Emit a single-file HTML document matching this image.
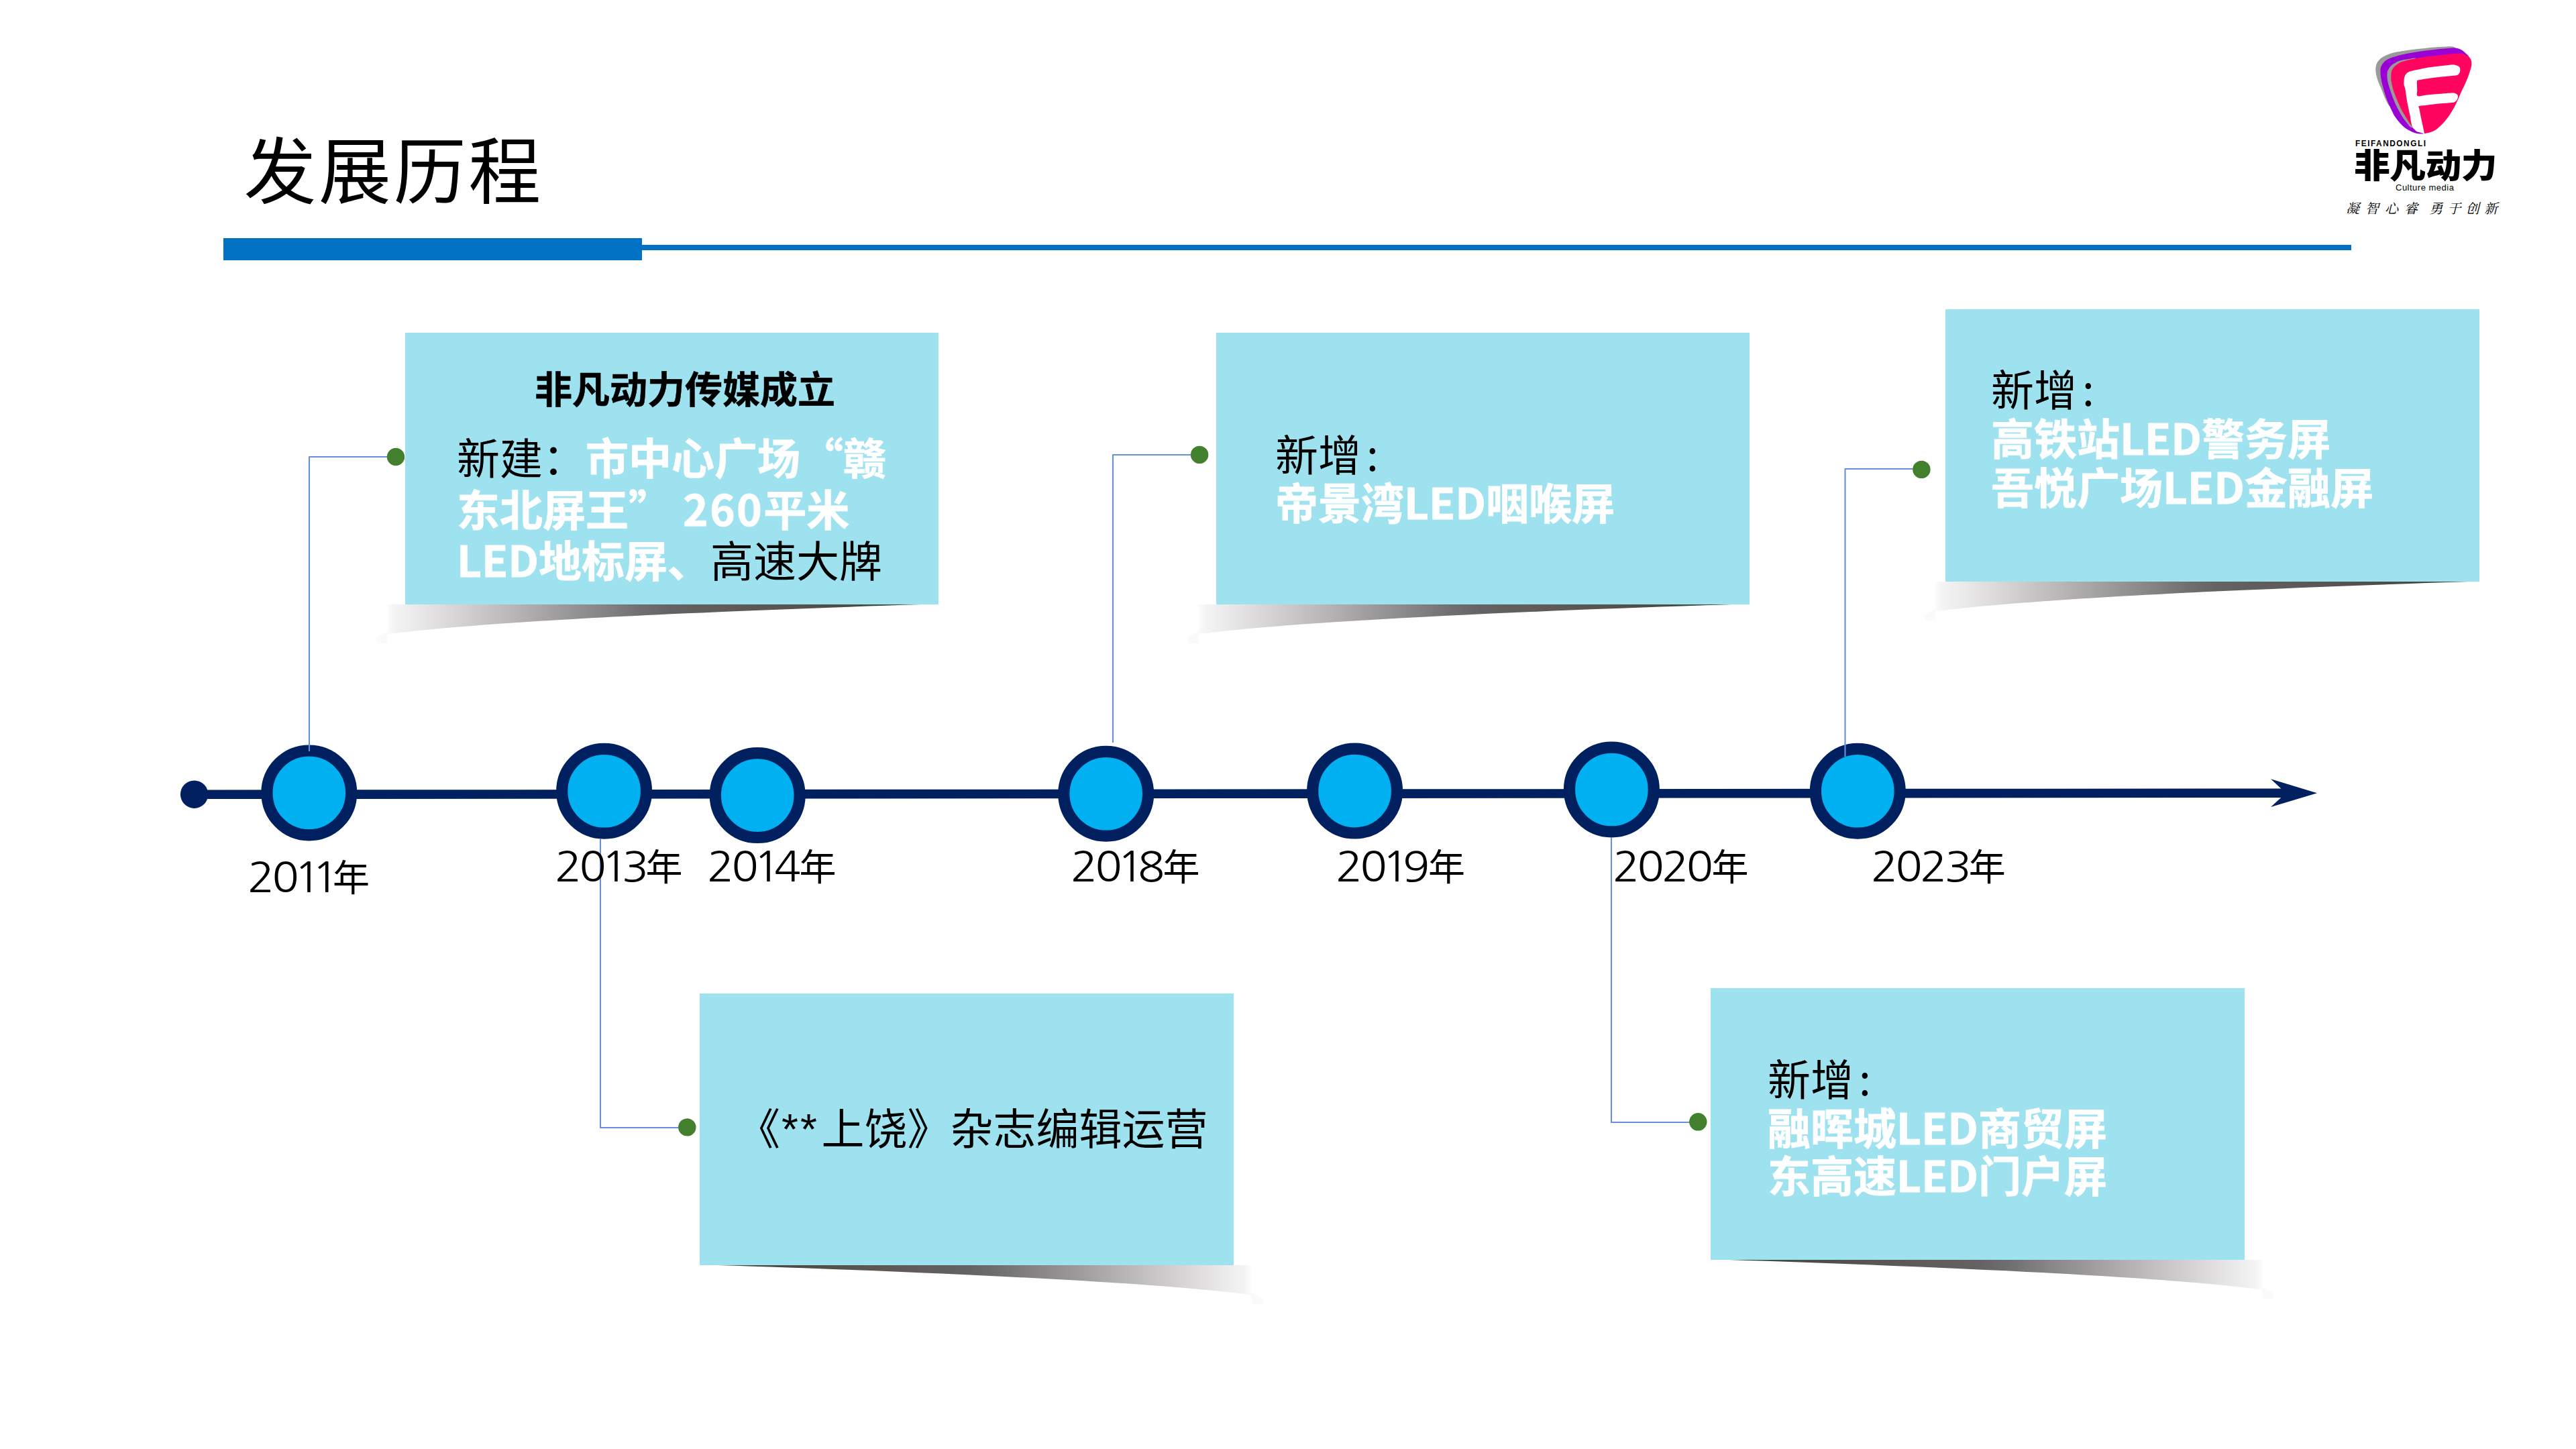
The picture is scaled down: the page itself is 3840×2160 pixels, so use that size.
<!DOCTYPE html>
<html lang="zh-CN">
<head>
<meta charset="utf-8">
<title>发展历程</title>
<style>
html,body{margin:0;padding:0;background:#fff;}
body{width:3840px;height:2160px;overflow:hidden;position:relative;
  font-family:"Liberation Sans","Noto Sans CJK SC",sans-serif;color:#000;
  text-spacing-trim:space-all;-webkit-font-smoothing:antialiased;}
#stage{position:absolute;left:0;top:0;width:3840px;height:2160px;overflow:hidden;}
svg.layer{position:absolute;left:0;top:0;width:3840px;height:2160px;}
.box{position:absolute;background:#9fe2ef;}
.t{position:absolute;white-space:nowrap;line-height:1;margin:0;}
.cjk{font-family:"Noto Sans CJK SC",sans-serif;}
.b{font-weight:700;-webkit-text-stroke:0.5px #000;}
.w{color:#fff;}
.b.w{-webkit-text-stroke:0.8px #fff;}
.body64{font-size:64px;}
.col{margin-left:8px;}
/* title */
#title{left:363.5px;top:194px;font-size:108px;letter-spacing:3.6px;}
/* year labels */
.yr{font-family:"NanumGothic","Noto Sans CJK SC",sans-serif;font-weight:400;font-size:62px;letter-spacing:-3.4px;}
.yr .d{display:inline-block;transform:scaleX(1.07);transform-origin:0 50%;}
.yr .d i{font-style:normal;margin-left:-3.6px;margin-right:-5.6px;}
.yr .n{position:absolute;top:-0.3px;font-family:"Noto Sans CJK SC",sans-serif;font-weight:400;font-size:55px;letter-spacing:0;}
</style>
</head>
<body>
<div id="stage">

<!-- ======= shapes layer (below text) ======= -->
<svg class="layer" id="shapes" viewBox="0 0 3840 2160">
  <defs>
    <linearGradient id="shL" x1="0" y1="0" x2="1" y2="0">
      <stop offset="0" stop-color="#fbfbfb"/>
      <stop offset="0.012" stop-color="#f4f4f4"/>
      <stop offset="0.06" stop-color="#e9e8e8"/>
      <stop offset="0.085" stop-color="#e2e0e0"/>
      <stop offset="0.149" stop-color="#d0cece"/>
      <stop offset="0.213" stop-color="#bebcbc"/>
      <stop offset="0.277" stop-color="#aba9a9"/>
      <stop offset="0.342" stop-color="#979595"/>
      <stop offset="0.406" stop-color="#858383"/>
      <stop offset="0.47" stop-color="#717070"/>
      <stop offset="0.53" stop-color="#646262"/>
      <stop offset="0.72" stop-color="#5a5654"/>
      <stop offset="0.84" stop-color="#4c4e46"/>
      <stop offset="1" stop-color="#3e4a40"/>
    </linearGradient>
    <linearGradient id="shR" x1="1" y1="0" x2="0" y2="0">
      <stop offset="0" stop-color="#fbfbfb"/>
      <stop offset="0.012" stop-color="#f4f4f4"/>
      <stop offset="0.06" stop-color="#e9e8e8"/>
      <stop offset="0.085" stop-color="#e2e0e0"/>
      <stop offset="0.149" stop-color="#d0cece"/>
      <stop offset="0.213" stop-color="#bebcbc"/>
      <stop offset="0.277" stop-color="#aba9a9"/>
      <stop offset="0.342" stop-color="#979595"/>
      <stop offset="0.406" stop-color="#858383"/>
      <stop offset="0.47" stop-color="#717070"/>
      <stop offset="0.53" stop-color="#646262"/>
      <stop offset="0.72" stop-color="#5a5654"/>
      <stop offset="0.84" stop-color="#4c4e46"/>
      <stop offset="1" stop-color="#3e4a40"/>
    </linearGradient>
  </defs>

  <!-- header rule -->
  <rect x="333" y="355" width="624" height="33" fill="#0071c3"/>
  <rect x="950" y="365" width="2555" height="8" fill="#0071c3"/>

  <!-- box shadows -->
  <g fill="#fafafa">
    <path transform="translate(604,901)" d="M-26,40 L-26,46 L-27,58 L-42,58 L-44,50 Z"/><path transform="translate(1813,901)" d="M-26,40 L-26,46 L-27,58 L-42,58 L-44,50 Z"/><path transform="translate(2912,867)" d="M-26,40 L-26,46 L-27,58 L-42,58 L-44,50 Z"/>
    <path transform="translate(1043,1886)" d="M822,40 L822,46 L823,58 L838,58 L840,50 Z"/><path transform="translate(2550,1878)" d="M822,40 L822,46 L823,58 L838,58 L840,50 Z"/>
  </g>
  <path transform="translate(604,901)" d="M-26,0 L769,0 C396,11.9 96,27.5 -26,44.5 Z" fill="url(#shL)"/>
  <path transform="translate(1813,901)" d="M-26,0 L769,0 C396,11.9 96,27.5 -26,44.5 Z" fill="url(#shL)"/>
  <path transform="translate(2912,867)" d="M-26,0 L769,0 C396,11.9 96,27.5 -26,44.5 Z" fill="url(#shL)"/>
  <path transform="translate(1043,1886)" d="M822,0 L27,0 C400,11.9 700,27.5 822,44.5 Z" fill="url(#shR)"/>
  <path transform="translate(2550,1878)" d="M822,0 L27,0 C400,11.9 700,27.5 822,44.5 Z" fill="url(#shR)"/>
</svg>

<!-- ======= info boxes ======= -->
<div class="box" style="left:604px;top:496px;width:795px;height:405px;"></div>
<div class="box" style="left:1813px;top:496px;width:795px;height:405px;"></div>
<div class="box" style="left:2900px;top:461px;width:796px;height:406px;"></div>
<div class="box" style="left:1043px;top:1481px;width:796px;height:405px;"></div>
<div class="box" style="left:2550px;top:1473px;width:796px;height:405px;"></div>

<!-- ======= timeline layer ======= -->
<svg class="layer" id="timeline" viewBox="0 0 3840 2160">
  <!-- main axis -->
  <line x1="289.6" y1="1184.3" x2="3412" y2="1182.2" stroke="#002060" stroke-width="13.6"/>
  <circle cx="289.6" cy="1184.2" r="20.7" fill="#002060"/>
  <path d="M3454,1182.2 L3385,1161.3 L3407.6,1182.2 L3385,1203 Z" fill="#002060"/>
  <!-- year nodes -->
  <g fill="#00b0f0" stroke="#002060" stroke-width="17.2">
    <circle cx="460.8" cy="1181.9" r="62.9"/>
    <circle cx="900.6" cy="1179.3" r="62.9"/>
    <circle cx="1129.2" cy="1185.6" r="62.9"/>
    <circle cx="1648.7" cy="1183.3" r="62.9"/>
    <circle cx="2019.6" cy="1179.1" r="62.9"/>
    <circle cx="2402.4" cy="1177" r="62.9"/>
    <circle cx="2769.3" cy="1179.3" r="62.9"/>
  </g>
  <!-- connectors -->
  <g fill="none" stroke="#6690d8" stroke-width="2.1" stroke-linejoin="round">
    <path d="M461,1120 V681 H590"/>
    <path d="M895,1250 V1681 H1024"/>
    <path d="M1659,1107 V678 H1788"/>
    <path d="M2402,1248 V1673 H2531"/>
    <path d="M2750.5,1128 V699 H2864"/>
  </g>
  <!-- connector end dots -->
  <g fill="#43802d">
    <circle cx="590" cy="681" r="13.2"/>
    <circle cx="1024.3" cy="1680.4" r="13.2"/>
    <circle cx="1788.1" cy="677.9" r="13.2"/>
    <circle cx="2531.3" cy="1672.3" r="13.2"/>
    <circle cx="2864.4" cy="699.9" r="13.2"/>
  </g>
</svg>

<!-- ======= logo mark ======= -->
<svg class="layer" id="logo" viewBox="0 0 3840 2160">
  <path fill="#9a9a9a" d="M3660.0,71.5 C3660.2,70.8 3657.3,70.0 3656.0,69.6 C3654.7,69.2 3654.8,69.2 3652.1,69.2 C3649.4,69.2 3643.8,69.6 3640.0,69.8 C3636.2,70.0 3633.7,70.2 3629.0,70.6 C3624.3,71.0 3617.5,71.8 3612.0,72.3 C3606.5,72.8 3601.3,73.2 3596.0,73.9 C3590.7,74.6 3584.9,75.4 3580.0,76.3 C3575.1,77.2 3570.0,78.1 3566.3,79.1 C3562.6,80.0 3560.4,81.0 3558.0,82.0 C3555.6,83.0 3553.7,83.8 3551.8,85.1 C3549.9,86.3 3547.9,88.0 3546.5,89.5 C3545.1,91.0 3544.0,92.5 3543.2,94.3 C3542.4,96.0 3541.9,98.0 3541.6,100.0 C3541.3,102.0 3541.3,104.1 3541.5,106.2 C3541.7,108.3 3541.8,110.1 3542.5,112.8 C3543.2,115.5 3544.3,119.2 3545.5,122.5 C3546.7,125.8 3548.5,129.3 3549.8,132.6 C3551.1,135.8 3552.3,139.1 3553.5,142.0 C3554.7,144.9 3555.8,147.5 3557.0,150.0 C3558.2,152.5 3559.5,155.3 3561.0,157.0 C3562.5,158.7 3566.2,162.8 3566.0,160.0 C3565.8,157.2 3562.2,147.0 3560.0,140.0 C3557.8,133.0 3554.3,124.7 3553.0,118.0 C3551.7,111.3 3550.8,104.7 3552.0,100.0 C3553.2,95.3 3555.3,92.8 3560.0,90.0 C3564.7,87.2 3570.0,85.3 3580.0,83.0 C3590.0,80.7 3607.5,77.6 3620.0,76.0 C3632.5,74.4 3648.3,74.2 3655.0,73.5 C3661.7,72.8 3659.8,72.2 3660.0,71.5 Z"/>
  <path fill="#9a00d6" d="M3682.0,89.0 C3683.6,88.9 3680.6,85.0 3679.5,83.3 C3678.4,81.6 3676.4,80.3 3675.2,79.1 C3673.9,77.9 3673.1,77.1 3672.0,76.2 C3670.9,75.3 3669.9,74.6 3668.6,73.9 C3667.3,73.2 3665.7,72.6 3664.0,72.2 C3662.3,71.8 3662.0,71.5 3658.7,71.5 C3655.4,71.5 3648.9,72.1 3644.0,72.5 C3639.1,72.9 3634.3,73.3 3629.0,73.9 C3623.7,74.5 3617.5,75.2 3612.0,76.0 C3606.5,76.8 3601.0,77.6 3596.0,78.5 C3591.0,79.4 3586.4,80.3 3582.0,81.3 C3577.6,82.3 3572.7,83.5 3569.6,84.4 C3566.5,85.3 3565.4,85.7 3563.5,86.5 C3561.6,87.3 3560.0,88.0 3558.4,89.0 C3556.8,90.0 3555.1,91.2 3553.8,92.5 C3552.5,93.8 3551.3,95.5 3550.5,97.0 C3549.7,98.5 3549.1,100.0 3548.8,101.5 C3548.5,103.0 3548.4,103.8 3548.5,106.2 C3548.6,108.6 3548.7,112.7 3549.2,116.0 C3549.7,119.3 3550.5,122.7 3551.3,126.0 C3552.1,129.3 3553.0,132.7 3554.0,136.0 C3555.0,139.3 3556.0,142.7 3557.2,146.0 C3558.4,149.3 3559.8,152.7 3561.3,156.0 C3562.8,159.3 3564.6,163.2 3566.0,166.0 C3567.4,168.8 3567.8,170.3 3569.6,173.0 C3571.3,175.7 3573.8,178.9 3576.5,182.0 C3579.2,185.1 3582.3,188.7 3586.1,191.3 C3589.9,194.0 3594.9,196.6 3599.3,197.9 C3603.7,199.2 3611.9,200.2 3612.5,199.2 C3613.1,198.2 3606.4,195.5 3603.0,192.0 C3599.6,188.5 3595.5,183.3 3592.0,178.0 C3588.5,172.7 3585.3,167.0 3582.0,160.0 C3578.7,153.0 3574.3,143.5 3572.0,136.0 C3569.7,128.5 3568.0,120.8 3568.0,115.0 C3568.0,109.2 3568.3,104.7 3572.0,101.0 C3575.7,97.3 3578.7,95.6 3590.0,93.0 C3601.3,90.4 3626.7,87.0 3640.0,85.5 C3653.3,84.0 3663.0,83.4 3670.0,84.0 C3677.0,84.6 3680.4,89.1 3682.0,89.0 Z"/>
  <path fill="#9a9a9a" d="M3600.0,86.5 C3598.0,86.0 3593.3,87.5 3590.0,88.0 C3586.7,88.5 3582.9,89.1 3580.2,89.7 C3577.5,90.3 3575.8,90.9 3574.0,91.7 C3572.2,92.5 3571.2,93.3 3569.6,94.3 C3568.0,95.3 3565.9,96.4 3564.5,97.7 C3563.1,99.0 3561.9,100.7 3561.0,102.2 C3560.1,103.8 3559.2,105.2 3558.8,107.0 C3558.4,108.8 3558.4,110.7 3558.4,112.8 C3558.4,114.9 3558.6,116.9 3559.0,119.4 C3559.4,121.9 3560.2,125.1 3561.0,128.0 C3561.8,130.9 3562.9,133.8 3564.0,137.0 C3565.1,140.2 3566.2,143.6 3567.5,147.0 C3568.8,150.4 3570.3,154.0 3572.0,157.5 C3573.7,161.0 3575.7,164.8 3577.5,168.0 C3579.3,171.2 3581.0,174.2 3583.0,177.0 C3585.0,179.8 3587.6,182.8 3589.4,185.0 C3591.2,187.2 3592.6,189.5 3594.0,190.0 C3595.4,190.5 3598.7,190.3 3598.0,188.0 C3597.3,185.7 3592.7,180.7 3590.0,176.0 C3587.3,171.3 3585.0,166.7 3582.0,160.0 C3579.0,153.3 3574.3,143.5 3572.0,136.0 C3569.7,128.5 3568.0,120.8 3568.0,115.0 C3568.0,109.2 3568.3,104.5 3572.0,101.0 C3575.7,97.5 3585.0,95.7 3590.0,94.0 C3595.0,92.3 3600.3,92.2 3602.0,91.0 C3603.7,89.8 3602.0,87.0 3600.0,86.5 Z"/>
  <path fill="#ff0560" d="M3564.3,112.8 C3564.4,110.6 3564.4,108.8 3564.8,107.0 C3565.2,105.2 3566.1,103.7 3567.0,102.2 C3567.9,100.7 3569.2,99.2 3570.5,98.0 C3571.8,96.8 3573.3,96.0 3574.9,95.0 C3576.5,94.0 3578.1,93.1 3580.0,92.3 C3581.9,91.5 3583.3,91.1 3586.1,90.4 C3588.9,89.7 3593.2,88.8 3597.0,88.0 C3600.8,87.2 3605.0,86.4 3609.2,85.7 C3613.4,85.0 3617.6,84.5 3622.0,84.0 C3626.4,83.5 3631.1,82.9 3635.6,82.4 C3640.1,81.9 3644.6,81.4 3649.0,81.0 C3653.4,80.6 3658.9,80.0 3662.0,79.8 C3665.1,79.6 3665.8,79.6 3667.5,79.7 C3669.2,79.8 3670.3,80.1 3671.9,80.5 C3673.5,80.9 3675.4,81.5 3676.8,82.3 C3678.2,83.1 3679.5,84.1 3680.5,85.1 C3681.5,86.0 3682.4,86.9 3683.0,88.0 C3683.6,89.1 3683.9,90.5 3684.1,91.7 C3684.3,93.0 3684.4,94.2 3684.4,95.5 C3684.4,96.8 3684.3,97.6 3683.8,99.6 C3683.3,101.6 3682.4,104.8 3681.5,107.5 C3680.6,110.2 3679.8,112.8 3678.5,116.1 C3677.2,119.3 3675.5,123.4 3673.8,127.0 C3672.2,130.6 3670.3,134.1 3668.6,137.8 C3666.9,141.5 3665.5,145.4 3663.8,149.0 C3662.2,152.6 3660.6,156.1 3658.7,159.6 C3656.8,163.1 3654.7,166.7 3652.5,170.0 C3650.3,173.3 3647.8,176.6 3645.5,179.4 C3643.2,182.2 3641.2,184.4 3639.0,186.6 C3636.8,188.8 3634.2,191.1 3632.3,192.6 C3630.4,194.1 3629.2,194.7 3627.5,195.5 C3625.8,196.3 3624.0,196.7 3622.4,197.2 C3620.8,197.7 3619.4,198.0 3618.0,198.3 C3616.6,198.6 3615.5,199.0 3613.8,198.9 C3612.1,198.8 3609.9,198.2 3608.0,197.5 C3606.1,196.8 3604.1,195.9 3602.6,195.0 C3601.1,194.1 3600.1,193.2 3599.0,192.3 C3597.9,191.4 3597.1,190.6 3596.0,189.3 C3594.9,188.0 3593.6,186.2 3592.5,184.5 C3591.4,182.8 3590.8,181.6 3589.4,179.4 C3588.0,177.2 3586.0,174.1 3584.3,171.3 C3582.7,168.6 3581.2,166.2 3579.5,162.9 C3577.8,159.6 3576.0,155.3 3574.3,151.5 C3572.7,147.7 3570.9,143.4 3569.6,139.8 C3568.3,136.2 3567.3,133.3 3566.5,130.0 C3565.7,126.7 3564.9,122.9 3564.5,120.0 C3564.1,117.1 3564.2,115.0 3564.3,112.8 Z"/>
  <path fill="#ffffff" d="M3583.5,126.0 C3583.2,123.9 3583.5,122.2 3583.6,120.5 C3583.7,118.8 3583.8,117.5 3584.1,116.1 C3584.4,114.7 3584.8,113.2 3585.5,112.0 C3586.2,110.8 3587.1,109.7 3588.1,108.8 C3589.1,107.9 3590.2,107.2 3591.5,106.7 C3592.8,106.2 3593.1,106.2 3596.0,105.5 C3598.9,104.8 3604.6,103.7 3609.0,102.8 C3613.4,101.9 3617.4,101.0 3622.4,100.3 C3627.4,99.5 3633.5,98.9 3639.0,98.3 C3644.5,97.7 3651.9,96.8 3655.4,96.6 C3658.9,96.4 3658.6,96.6 3660.0,96.9 C3661.4,97.2 3662.9,97.7 3664.0,98.3 C3665.1,98.9 3666.0,99.7 3666.6,100.6 C3667.2,101.5 3667.2,102.5 3667.3,103.6 C3667.4,104.7 3667.3,105.9 3667.0,107.0 C3666.7,108.1 3665.9,109.4 3665.3,110.2 C3664.7,111.0 3664.1,111.4 3663.3,111.8 C3662.5,112.2 3662.0,112.3 3660.7,112.5 C3659.4,112.7 3658.5,112.6 3655.4,112.9 C3652.3,113.2 3646.4,113.8 3642.0,114.3 C3637.6,114.8 3633.9,115.2 3629.0,115.8 C3624.1,116.4 3616.2,117.5 3612.5,118.1 C3608.8,118.7 3608.0,118.9 3606.5,119.2 C3605.0,119.5 3603.9,119.0 3603.3,120.1 C3602.7,121.2 3602.9,123.7 3602.9,126.0 C3602.9,128.3 3603.1,131.2 3603.3,134.0 C3603.5,136.8 3601.8,141.8 3603.9,143.1 C3606.0,144.4 3611.8,142.1 3616.0,141.7 C3620.2,141.3 3624.7,140.9 3629.0,140.5 C3633.3,140.1 3637.6,139.7 3642.0,139.4 C3646.4,139.1 3652.6,138.6 3655.4,138.5 C3658.2,138.4 3657.7,138.6 3658.7,138.8 C3659.7,139.0 3660.5,139.3 3661.3,139.8 C3662.1,140.3 3662.9,140.9 3663.3,141.6 C3663.8,142.3 3664.0,142.9 3664.0,143.8 C3664.0,144.8 3663.8,146.2 3663.3,147.3 C3662.9,148.4 3662.1,149.6 3661.3,150.4 C3660.5,151.2 3659.7,151.8 3658.7,152.2 C3657.7,152.6 3658.2,152.7 3655.4,153.0 C3652.6,153.3 3646.4,153.7 3642.0,154.1 C3637.6,154.5 3633.3,154.8 3629.0,155.3 C3624.7,155.8 3619.8,156.5 3616.0,157.0 C3612.2,157.5 3607.5,157.3 3605.9,158.3 C3604.3,159.3 3606.2,160.5 3606.6,162.9 C3607.0,165.3 3607.8,169.5 3608.4,172.8 C3609.1,176.1 3609.8,179.7 3610.5,182.7 C3611.2,185.7 3611.8,188.4 3612.3,191.0 C3612.9,193.6 3613.8,197.2 3613.8,198.5 C3613.8,199.8 3613.6,199.1 3612.5,198.9 C3611.4,198.7 3608.7,197.8 3607.0,197.3 C3605.3,196.8 3603.9,196.7 3602.6,195.9 C3601.3,195.2 3600.1,193.9 3599.0,192.8 C3597.9,191.7 3596.8,191.3 3596.0,189.3 C3595.2,187.3 3594.6,183.8 3594.0,181.0 C3593.4,178.2 3593.4,176.5 3592.7,172.8 C3592.0,169.1 3590.7,163.4 3589.8,159.0 C3588.9,154.6 3588.1,150.7 3587.4,146.4 C3586.7,142.1 3586.2,136.4 3585.5,133.0 C3584.8,129.6 3583.8,128.1 3583.5,126.0 Z"/>
</svg>
<div class="t" id="lg-en" style="left:3511px;top:208.7px;font-size:11.9px;font-weight:700;letter-spacing:1.5px;">FEIFANDONGLI</div>
<div class="t cjk" id="lg-cn" style="left:3509px;top:218px;font-size:50px;font-weight:900;letter-spacing:-0.5px;transform:scaleX(1.075);transform-origin:0 0;">非凡动力</div>
<div class="t" id="lg-cm" style="left:3571px;top:273px;font-size:13px;letter-spacing:0.5px;">Culture media</div>
<div class="t" id="lg-slogan" style="left:3497px;top:301px;font-family:'Liberation Serif','Noto Serif CJK SC',serif;font-size:20px;font-style:italic;letter-spacing:9px;">凝智心睿<span style="font-size:1px;letter-spacing:8px;"> </span><span style="letter-spacing:7.3px;">勇于创新</span></div>

<!-- ======= page title ======= -->
<div class="t cjk" id="title">发展历程</div>

<!-- ======= year labels ======= -->
<div class="t yr" style="left:369px;top:1277px;"><span class="d">20<i>1</i><i>1</i></span><span class="n" style="left:127.0px;">年</span></div>
<div class="t yr" style="left:827px;top:1261px;"><span class="d">20<i>1</i>3</span><span class="n" style="left:135.6px;">年</span></div>
<div class="t yr" style="left:1054px;top:1261px;"><span class="d">20<i>1</i>4</span><span class="n" style="left:137.5px;">年</span></div>
<div class="t yr" style="left:1596px;top:1261px;"><span class="d">20<i>1</i>8</span><span class="n" style="left:137.6px;">年</span></div>
<div class="t yr" style="left:1991px;top:1261px;"><span class="d">20<i>1</i>9</span><span class="n" style="left:138.1px;">年</span></div>
<div class="t yr" style="left:2404px;top:1261px;"><span class="d">2020</span><span class="n" style="left:147.4px;">年</span></div>
<div class="t yr" style="left:2789px;top:1261px;"><span class="d">2023</span><span class="n" style="left:145.8px;">年</span></div>

<!-- ======= box 1 text ======= -->
<div class="t cjk b" style="left:797px;top:549px;font-size:56px;">非凡动力传媒成立</div>
<div class="t cjk body64" style="left:681px;top:647px;">新建：<span class="b w">市中心广场“赣</span></div>
<div class="t cjk body64 b w" style="left:681px;top:724px;">东北屏王”<span style="letter-spacing:2.35px;"> 260</span>平米</div>
<div class="t cjk body64" style="left:681px;top:800px;"><span class="b w">LED地标屏、</span>高速大牌</div>

<!-- ======= box 2 text ======= -->
<div class="t cjk body64" style="left:1901px;top:642px;">新增<span class="col">:</span></div>
<div class="t cjk body64 b w" style="left:1901px;top:714px;">帝景湾LED咽喉屏</div>

<!-- ======= box 3 text ======= -->
<div class="t cjk body64" style="left:2968px;top:545px;">新增<span class="col">:</span></div>
<div class="t cjk body64 b w" style="left:2968px;top:618px;">高铁站LED警务屏</div>
<div class="t cjk body64 b w" style="left:2968px;top:691px;">吾悦广场LED金融屏</div>

<!-- ======= box 4 text ======= -->
<div class="t cjk body64" style="left:1107px;top:1646px;"><span style="position:relative;left:-8px;">《</span><span style="font-family:'Liberation Sans',sans-serif;letter-spacing:3.2px;position:relative;left:-6px;margin-right:-2.8px;">**</span>上饶》杂志编辑运营</div>

<!-- ======= box 5 text ======= -->
<div class="t cjk body64" style="left:2635px;top:1573px;">新增<span class="col">:</span></div>
<div class="t cjk body64 b w" style="left:2635px;top:1646px;">融晖城LED商贸屏</div>
<div class="t cjk body64 b w" style="left:2635px;top:1717px;">东高速LED门户屏</div>

</div>
</body>
</html>
